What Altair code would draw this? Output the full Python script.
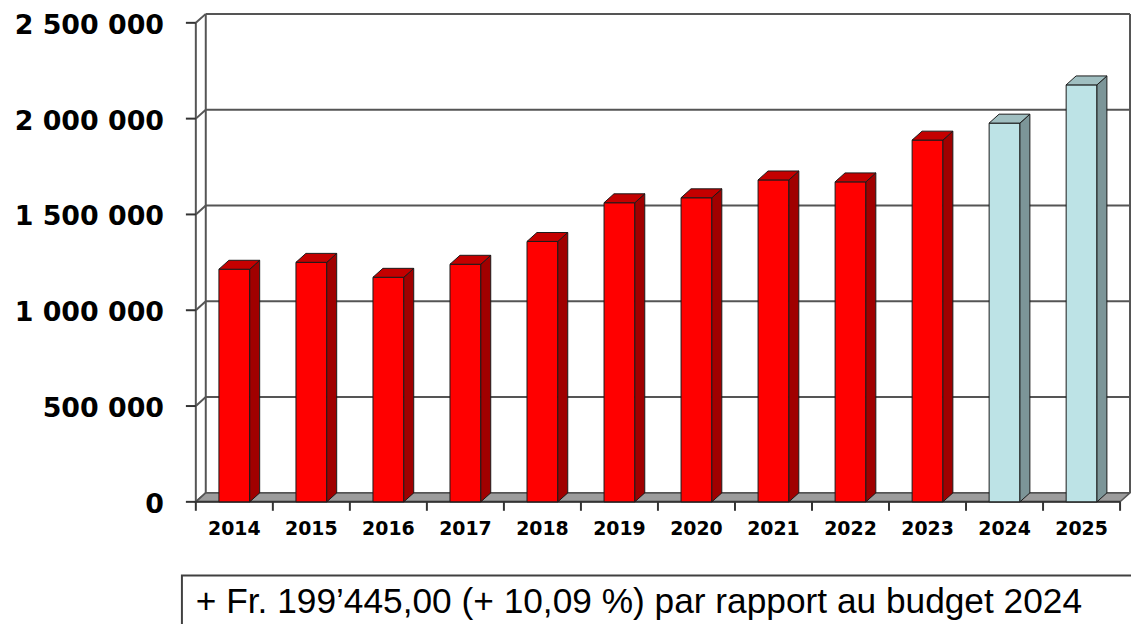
import altair as alt
import pandas as pd

# ---------------- data ----------------
YEARS = [2014, 2015, 2016, 2017, 2018, 2019, 2020, 2021, 2022, 2023, 2024, 2025]
VALUES = [1214000, 1250000, 1172000, 1240000, 1359000, 1561000,
          1587000, 1680000, 1670000, 1888000, 1976660, 2176105]
KINDS = ["Comptes"] * 10 + ["Budget"] * 2
Y_TICKS = [0, 500000, 1000000, 1500000, 2000000, 2500000]
Y_TICK_LABELS = ["0", "500 000", "1 000 000", "1 500 000", "2 000 000", "2 500 000"]
NOTE = "+ Fr. 199\u2019445,00 (+ 10,09 %) par rapport au budget 2024"

# ---------------- layout / style ----------------
W, H = 930, 482
N = len(YEARS)
YMAX = 2500000
PX_X = N / W          # data units per pixel (x)
PX_Y = YMAX / H       # data units per pixel (y)
DX = 10 * PX_X        # 3D depth offset
DY = 9 * PX_Y
BAR_L, BAR_R = 0.3, 0.7
LINE = "#555555"

xs = alt.Scale(domain=[0, N], nice=False, zero=False)
ys = alt.Scale(domain=[0, YMAX], nice=False, zero=False)


def X(f):
    return alt.X(f, type="quantitative", scale=xs, axis=None)


def Y(f):
    return alt.Y(f, type="quantitative", scale=ys, axis=None)


kinds = ["Comptes", "Budget"]
front_c = alt.Color("kind:N", scale=alt.Scale(domain=kinds, range=["#ff0000", "#bde3e6"]), legend=None)
side_c = alt.Color("kind:N", scale=alt.Scale(domain=kinds, range=["#a00000", "#7c9598"]), legend=None)
top_c = alt.Color("kind:N", scale=alt.Scale(domain=kinds, range=["#c40000", "#a0bfc1"]), legend=None)

# ---------------- wall / grid lines ----------------
segs = []
for v in Y_TICKS:
    segs.append(dict(x=DX, y=v + DY, x2=N + DX, y2=v + DY))   # back grid line
    segs.append(dict(x=0, y=v, x2=DX, y2=v + DY))             # left wall diagonal
segs.append(dict(x=DX, y=DY, x2=DX, y2=YMAX + DY))             # back-left edge
segs.append(dict(x=N + DX, y=DY, x2=N + DX, y2=YMAX + DY))     # right wall edge
segs.append(dict(x=0, y=0, x2=0, y2=YMAX))                     # front y axis
wall = alt.Chart(pd.DataFrame(segs)).mark_rule(color=LINE, strokeWidth=2).encode(
    x=X("x"), x2="x2", y=Y("y"), y2="y2")

# ---------------- floor ----------------
floor_df = pd.DataFrame([dict(y=0, xa=0, xb=N), dict(y=DY, xa=DX, xb=N + DX)])
floor = alt.Chart(floor_df).mark_area(orient="horizontal", color="#9c9c9c", opacity=1,
                                      stroke=LINE, strokeWidth=1.5).encode(
    y=Y("y"), x=X("xa"), x2="xb")

# ---------------- ticks ----------------
tk = []
for v in Y_TICKS:
    tk.append(dict(x=-10 * PX_X, y=v, x2=0, y2=v))
for k in range(N + 1):
    tk.append(dict(x=k, y=0, x2=k, y2=-9 * PX_Y))
tk.append(dict(x=0, y=0, x2=N, y2=0))
ticks = alt.Chart(pd.DataFrame(tk)).mark_rule(color="#333333", strokeWidth=2).encode(
    x=X("x"), x2="x2", y=Y("y"), y2="y2")

# ---------------- bars ----------------
bars = pd.DataFrame(dict(year=YEARS, v=VALUES, kind=KINDS))
bars["i"] = range(N)
bars["xl"] = bars["i"] + BAR_L
bars["xr"] = bars["i"] + BAR_R
bars["zero"] = 0
bars["xc"] = bars["i"] + 0.5

front = alt.Chart(bars).mark_rect(stroke="#1a1a1a", strokeWidth=1).encode(
    x=X("xl"), x2="xr", y=Y("v"), y2="zero", color=front_c)

side_rows, top_rows = [], []
for i, (yr, v, k) in enumerate(zip(YEARS, VALUES, KINDS)):
    side_rows.append(dict(year=yr, kind=k, xs=i + BAR_R, yt=v, yb=0))
    side_rows.append(dict(year=yr, kind=k, xs=i + BAR_R + DX, yt=v + DY, yb=DY))
    top_rows.append(dict(year=yr, kind=k, yt=v, xa=i + BAR_L, xb=i + BAR_R))
    top_rows.append(dict(year=yr, kind=k, yt=v + DY, xa=i + BAR_L + DX, xb=i + BAR_R + DX))

side = alt.Chart(pd.DataFrame(side_rows)).mark_area(
    orient="vertical", stroke="#1a1a1a", strokeWidth=1, opacity=1).encode(
    x=X("xs"), y=Y("yt"), y2="yb", detail="year:N", color=side_c)
top = alt.Chart(pd.DataFrame(top_rows)).mark_area(
    orient="horizontal", stroke="#1a1a1a", strokeWidth=1, opacity=1).encode(
    y=Y("yt"), x=X("xa"), x2="xb", detail="year:N", color=top_c)

# ---------------- labels ----------------
ylab = alt.Chart(pd.DataFrame(dict(v=Y_TICKS, label=Y_TICK_LABELS))).mark_text(
    align="right", baseline="alphabetic", dy=11, font="DejaVu Sans", fontWeight="bold",
    fontSize=27, color="#000000").encode(x=alt.value(-32), y=Y("v"), text="label:N")

xlab = alt.Chart(bars).mark_text(
    align="center", baseline="middle", font="DejaVu Sans", fontWeight="bold",
    fontSize=19, color="#000000").encode(x=X("xc"), y=alt.value(509), text="year:N")

# ---------------- note box ----------------
note_df = pd.DataFrame(dict(t=[NOTE]))
box = alt.Chart(note_df).mark_rect(fill="white", stroke="#404040", strokeWidth=2).encode(
    x=alt.value(-14), x2=alt.value(1000), y=alt.value(556), y2=alt.value(700))
note = alt.Chart(note_df).mark_text(
    align="left", baseline="alphabetic", font="Liberation Sans", fontSize=35.5,
    color="#000000").encode(x=alt.value(0), y=alt.value(594), text="t:N")

chart = alt.layer(wall, floor, ticks, front, side, top, ylab, xlab, box, note).resolve_scale(
    color="independent"
).properties(
    width=W, height=H,
    autosize=alt.AutoSizeParams(type="none"),
    padding={"left": 189, "top": 13, "right": 11, "bottom": 121},
).configure_view(stroke=None)

chart.save("out.html", embed_options={"renderer": "svg", "actions": False})
